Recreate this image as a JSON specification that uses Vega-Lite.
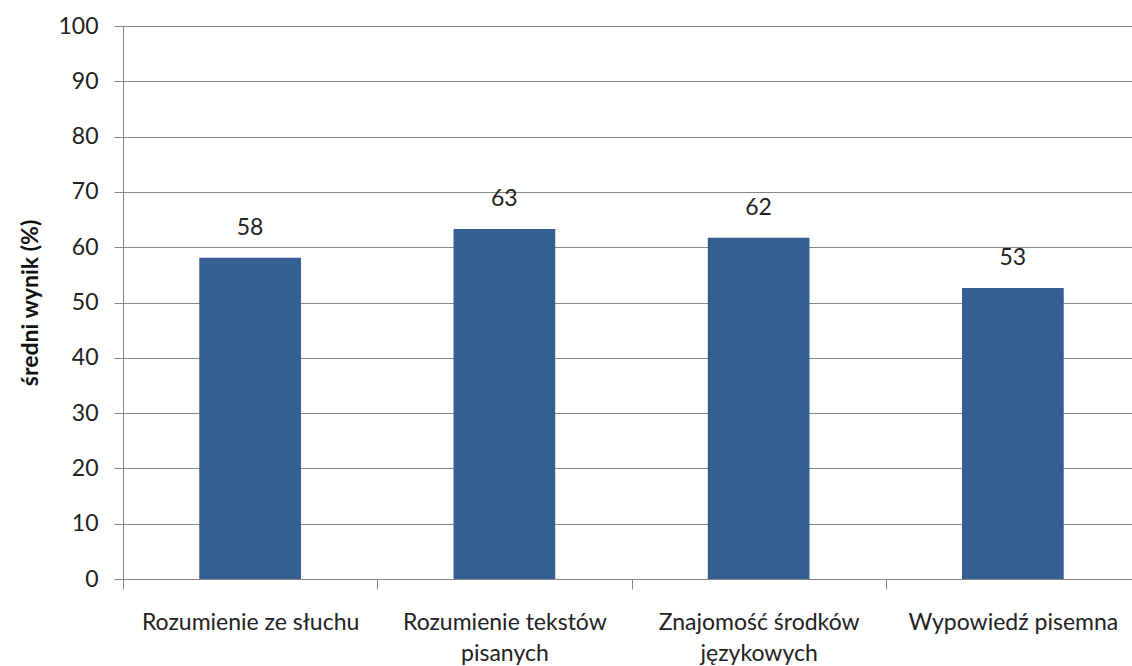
{
  "$schema": "https://vega.github.io/schema/vega-lite/v6.json",
  "autosize": "none",
  "width": 1017,
  "height": 553,
  "padding": {"left": 123, "top": 26, "right": 0, "bottom": 87},
  "background": "white",
  "config": {"view": {"stroke": null}, "font": "Lato"},
  "data": {"values": [
    {"kategoria": "Rozumienie ze słuchu", "wynik": 58.1, "etykieta": "58"},
    {"kategoria": "Rozumienie tekstów|pisanych", "wynik": 63.3, "etykieta": "63"},
    {"kategoria": "Znajomość środków|językowych", "wynik": 61.7, "etykieta": "62"},
    {"kategoria": "Wypowiedź pisemna", "wynik": 52.6, "etykieta": "53"}
  ]},
  "encoding": {
    "x": {
      "field": "kategoria", "type": "nominal", "sort": null,
      "scale": {"paddingInner": 0.6, "paddingOuter": 0.3},
      "axis": {
        "title": null, "labelAngle": 0,
        "labelExpr": "split(datum.label, '|')",
        "labelFont": "Lato", "labelFontSize": 23, "labelColor": "#222222",
        "labelLineHeight": 31, "labelPadding": 33, "labelBaseline": "middle",
        "labelLimit": 0, "labelOverlap": false,
        "tickOffset": -127, "labelOffset": 127,
        "tickSize": 10, "tickColor": "#868686", "domainColor": "#868686",
        "grid": false
      }
    },
    "y": {
      "field": "wynik", "type": "quantitative",
      "scale": {"domain": [0, 100], "nice": false},
      "axis": {
        "title": "średni wynik (%)", "titleFont": "Lato", "titleFontSize": 23,
        "titleFontWeight": "bold", "titleColor": "#111111", "titlePadding": 15,
        "values": [0, 10, 20, 30, 40, 50, 60, 70, 80, 90, 100],
        "labelFont": "Lato", "labelFontSize": 23, "labelColor": "#222222",
        "labelPadding": 16, "tickSize": 9, "tickColor": "#868686",
        "domainColor": "#868686", "gridColor": "#868686", "grid": true
      }
    }
  },
  "layer": [
    {"mark": {"type": "bar", "color": "#365F91"}},
    {"mark": {"type": "text", "dy": -18, "fontSize": 23, "font": "Lato", "color": "#222222", "baseline": "bottom"},
     "encoding": {"text": {"field": "etykieta"}}}
  ]
}
